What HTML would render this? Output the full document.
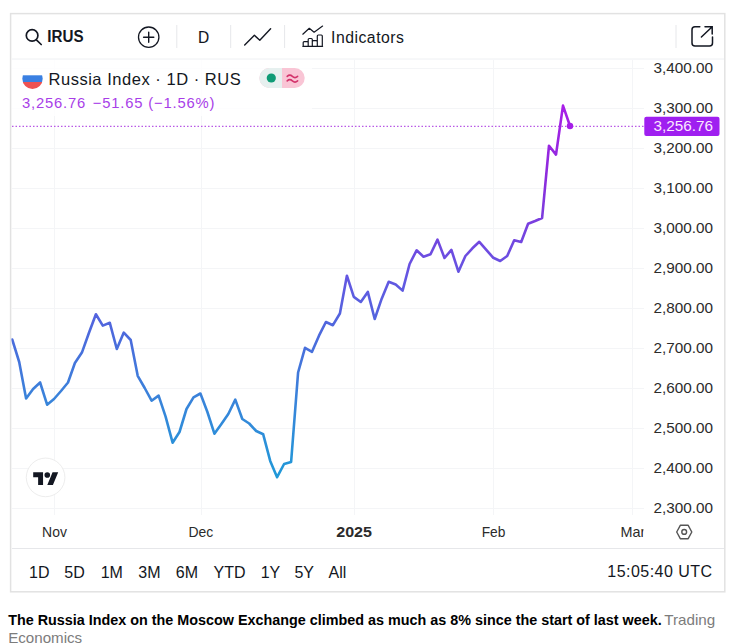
<!DOCTYPE html>
<html><head><meta charset="utf-8"><style>
html,body{margin:0;padding:0;background:#fff;width:742px;height:644px;overflow:hidden}
svg{display:block}
text{font-family:"Liberation Sans", sans-serif}
</style></head><body>
<svg width="742" height="644" viewBox="0 0 742 644">
<defs>
<linearGradient id="lg" gradientUnits="userSpaceOnUse" x1="0" y1="480" x2="0" y2="105"><stop offset="0.000" stop-color="#1f9ad8"/><stop offset="0.219" stop-color="#3a83da"/><stop offset="0.373" stop-color="#4a6cdc"/><stop offset="0.544" stop-color="#6456e2"/><stop offset="0.805" stop-color="#8c2cdc"/><stop offset="1.000" stop-color="#a81ee8"/></linearGradient>
<clipPath id="pane"><rect x="11.4" y="60" width="632.6" height="455"/></clipPath>
<clipPath id="flag"><circle cx="32.5" cy="78.8" r="10.2"/></clipPath>
<clipPath id="mar"><rect x="600" y="515" width="43.5" height="33"/></clipPath>
</defs>
<rect x="10.6" y="13.6" width="714.2" height="578.2" fill="#fff" stroke="#e2e2e2" stroke-width="1.5"/>
<line x1="12" y1="59" x2="724" y2="59" stroke="#eef0f3" stroke-width="1"/>
<g stroke="#f4f5f7" stroke-width="1"><line x1="12" y1="68.5" x2="644" y2="68.5"/><line x1="12" y1="108.5" x2="644" y2="108.5"/><line x1="12" y1="148.5" x2="644" y2="148.5"/><line x1="12" y1="188.5" x2="644" y2="188.5"/><line x1="12" y1="228.5" x2="644" y2="228.5"/><line x1="12" y1="268.5" x2="644" y2="268.5"/><line x1="12" y1="308.5" x2="644" y2="308.5"/><line x1="12" y1="348.5" x2="644" y2="348.5"/><line x1="12" y1="388.5" x2="644" y2="388.5"/><line x1="12" y1="428.5" x2="644" y2="428.5"/><line x1="12" y1="468.5" x2="644" y2="468.5"/><line x1="12" y1="508.5" x2="644" y2="508.5"/><line x1="54.5" y1="60" x2="54.5" y2="515"/><line x1="201.5" y1="60" x2="201.5" y2="515"/><line x1="354.5" y1="60" x2="354.5" y2="515"/><line x1="493.5" y1="60" x2="493.5" y2="515"/><line x1="632.5" y1="60" x2="632.5" y2="515"/></g>
<rect x="12" y="60" width="300" height="56" fill="#fff" fill-opacity="0.8"/>
<line x1="12" y1="548.5" x2="724" y2="548.5" stroke="#e6e7ea" stroke-width="1"/>
<line x1="12" y1="126.3" x2="644" y2="126.3" stroke="#b95ae6" stroke-width="1.3" stroke-dasharray="1.5 2"/>
<g clip-path="url(#pane)">
<polyline fill="none" stroke="url(#lg)" stroke-width="2.6" stroke-linejoin="round" stroke-linecap="round" points="12.2,339.5 19.2,362.0 26.1,398.5 33.1,389.0 40.1,382.5 47.1,404.7 54.0,399.0 61.0,391.0 68.0,382.5 74.9,363.0 81.9,352.6 88.9,333.0 95.9,314.3 102.8,325.6 109.8,322.8 116.8,349.0 123.8,332.6 130.7,340.0 137.7,375.8 144.7,388.0 151.6,400.7 158.6,395.6 165.6,416.6 172.6,442.7 179.5,432.0 186.5,409.0 193.5,397.4 200.4,393.5 207.4,412.0 214.4,433.7 221.4,424.0 228.3,414.0 235.3,399.6 242.3,419.0 249.2,423.5 256.2,431.0 263.2,434.3 270.2,460.9 277.1,477.2 284.1,464.0 291.1,462.0 298.1,372.5 305.0,347.8 312.0,351.8 319.0,335.7 325.9,322.0 332.9,325.2 339.9,313.5 346.9,275.7 353.8,296.9 360.8,302.0 367.8,291.9 374.7,319.0 381.7,298.7 388.7,281.8 395.7,284.5 402.6,290.6 409.6,264.0 416.6,250.3 423.5,256.7 430.5,254.3 437.5,239.6 444.5,258.0 451.4,249.9 458.4,271.7 465.4,256.0 472.4,248.3 479.3,241.8 486.3,249.9 493.3,257.8 500.2,261.0 507.2,256.0 514.2,240.2 521.2,242.0 528.1,223.8 535.1,221.0 542.1,218.0 549.0,145.7 556.0,154.6 563.0,105.6 570.0,126.0"/>
</g>
<circle cx="570" cy="126" r="3.2" fill="#a51ee8"/>
<circle cx="45.6" cy="477.4" r="19.3" fill="#fff" stroke="#ededed" stroke-width="1"/>
<g transform="translate(33.2,469.4) scale(0.704)" fill="#131722">
<path d="M14 22H7V11H0V4h14v18zM28 22h-8l7.5-18h8L28 22z"/><circle cx="20" cy="8" r="4"/>
</g>
<g fill="none" stroke="#131722" stroke-linecap="round">
<circle cx="32.1" cy="35.4" r="5.8" stroke-width="1.7"/>
<line x1="36.4" y1="39.9" x2="41.2" y2="44.5" stroke-width="1.7"/>
<circle cx="148.7" cy="37.2" r="10.2" stroke-width="1.3"/>
<line x1="143.6" y1="37.2" x2="153.8" y2="37.2" stroke-width="1.4"/>
<line x1="148.7" y1="32.1" x2="148.7" y2="42.3" stroke-width="1.4"/>
<polyline points="244.7,45 254.4,35.3 259.8,40.2 270.6,28.8" stroke-width="1.4" stroke-linejoin="round"/>
<polyline points="302.8,34.2 309.3,28.3 314.1,32.2 322.6,26.1" stroke-width="1.2" stroke-linejoin="round"/>
<path d="M303.2 46.3V42.6a1 1 0 0 1 1-1h3a1 1 0 0 1 1 1V46.3M308.2 46.3V39.5a1 1 0 0 1 1-1h2.1a1 1 0 0 1 1 1V46.3M312.3 46.3V41.7a1 1 0 0 1 1-1h3a1 1 0 0 1 1 1V46.3M317.3 46.3V36a1 1 0 0 1 1-1h3a1 1 0 0 1 1 1V46.3M302.8 46.3H322.6" stroke-width="1.2"/>
<path d="M699.8 26.8H695a3 3 0 0 0-3 3V42.9a3 3 0 0 0 3 3H709.5a3 3 0 0 0 3-3V37" stroke-width="1.5"/>
<path d="M701.4 37L712.2 26.8M705 26.8H712.2V34" stroke-width="1.5"/>
</g>
<g stroke="#e6e7ea" stroke-width="1">
<line x1="176.8" y1="25" x2="176.8" y2="48"/>
<line x1="230.7" y1="25" x2="230.7" y2="48"/>
<line x1="284.6" y1="25" x2="284.6" y2="48"/>
<line x1="676" y1="25" x2="676" y2="48"/>
</g>
<text x="47.3" y="42.1" font-size="16.8" font-weight="bold" fill="#131722" textLength="36.2" lengthAdjust="spacingAndGlyphs">IRUS</text>
<text x="198.1" y="42.9" font-size="16" fill="#131722" stroke="#131722" stroke-width="0.1" textLength="11.2" lengthAdjust="spacingAndGlyphs">D</text>
<text x="331" y="43" font-size="15.8" fill="#131722" textLength="73" lengthAdjust="spacing">Indicators</text>
<g clip-path="url(#flag)">
<rect x="22" y="68" width="21" height="7.5" fill="#fff"/>
<rect x="22" y="75.3" width="21" height="6.7" fill="#3a80e2"/>
<rect x="22" y="82" width="21" height="8" fill="#ee5252"/>
</g>
<text x="48.5" y="84.9" font-size="16.5" fill="#131722" textLength="192.2" lengthAdjust="spacing">Russia Index · 1D · RUS</text>
<g font-size="14.8" fill="#a83ee8">
<text x="22.1" y="108.3" textLength="63.1" lengthAdjust="spacing">3,256.76</text>
<text x="92.8" y="108.3" textLength="121.7" lengthAdjust="spacing">−51.65 (−1.56%)</text>
</g>
<rect x="259.4" y="68" width="45.3" height="20" rx="10" fill="#f9c5d5"/>
<path d="M269.4 68H282V88H269.4a10 10 0 0 1 0-20z" fill="#e6f0ef"/>
<circle cx="271.3" cy="78" r="4.6" fill="#0f9b76"/>
<path d="M287.2 76.4q2.6-2.4 5.2 0t5.2 0M287.2 80.9q2.6-2.4 5.2 0t5.2 0" fill="none" stroke="#d3336b" stroke-width="1.6" stroke-linecap="round"/>
<g font-size="14.8" fill="#2b2b2b"><text x="653.4" y="73.0" textLength="59.5" lengthAdjust="spacingAndGlyphs">3,400.00</text><text x="653.4" y="113.0" textLength="59.5" lengthAdjust="spacingAndGlyphs">3,300.00</text><text x="653.4" y="153.0" textLength="59.5" lengthAdjust="spacingAndGlyphs">3,200.00</text><text x="653.4" y="193.0" textLength="59.5" lengthAdjust="spacingAndGlyphs">3,100.00</text><text x="653.4" y="233.0" textLength="59.5" lengthAdjust="spacingAndGlyphs">3,000.00</text><text x="653.4" y="273.0" textLength="59.5" lengthAdjust="spacingAndGlyphs">2,900.00</text><text x="653.4" y="313.0" textLength="59.5" lengthAdjust="spacingAndGlyphs">2,800.00</text><text x="653.4" y="353.0" textLength="59.5" lengthAdjust="spacingAndGlyphs">2,700.00</text><text x="653.4" y="393.0" textLength="59.5" lengthAdjust="spacingAndGlyphs">2,600.00</text><text x="653.4" y="433.0" textLength="59.5" lengthAdjust="spacingAndGlyphs">2,500.00</text><text x="653.4" y="473.0" textLength="59.5" lengthAdjust="spacingAndGlyphs">2,400.00</text><text x="653.4" y="513.0" textLength="59.5" lengthAdjust="spacingAndGlyphs">2,300.00</text></g>
<rect x="644.3" y="116.7" width="75.2" height="19.2" rx="2" fill="#9f1ff0"/>
<text x="653.4" y="131.3" font-size="14.8" fill="#fbe8ff" textLength="59.5" lengthAdjust="spacingAndGlyphs">3,256.76</text>
<g font-size="14.5" fill="#2b2b2b">
<text x="42.1" y="537" textLength="24.8" lengthAdjust="spacingAndGlyphs">Nov</text>
<text x="188.5" y="537" textLength="24.8" lengthAdjust="spacingAndGlyphs">Dec</text>
<text x="336.2" y="537" font-weight="bold" textLength="35.8" lengthAdjust="spacingAndGlyphs">2025</text>
<text x="481.7" y="537" textLength="23.7" lengthAdjust="spacingAndGlyphs">Feb</text>
<text x="620.6" y="537" clip-path="url(#mar)" textLength="24.8" lengthAdjust="spacingAndGlyphs">Mar</text>
</g>
<g fill="none" stroke="#555" stroke-width="1.4" stroke-linejoin="round">
<path d="M676.7 532L680.3 525.3H688.2L691.8 532L688.2 538.7H680.3Z"/>
<circle cx="684.2" cy="531.9" r="2.4"/>
</g>
<g font-size="16" fill="#131722">
<text x="29.1" y="577.6">1D</text>
<text x="64.3" y="577.6">5D</text>
<text x="100.7" y="577.6">1M</text>
<text x="138.3" y="577.6">3M</text>
<text x="175.8" y="577.6">6M</text>
<text x="213.5" y="577.6">YTD</text>
<text x="260.7" y="577.6">1Y</text>
<text x="294.4" y="577.6">5Y</text>
<text x="328.6" y="577.6">All</text>
</g>
<text x="712" y="577.3" font-size="16" fill="#131722" text-anchor="end" textLength="104.7" lengthAdjust="spacing">15:05:40 UTC</text>
<text x="8.2" y="625" font-size="14.5" font-weight="bold" fill="#000" textLength="653.5" lengthAdjust="spacingAndGlyphs">The Russia Index on the Moscow Exchange climbed as much as 8% since the start of last week.</text>
<text x="664.3" y="625" font-size="15" fill="#7c7c7c" textLength="51" lengthAdjust="spacingAndGlyphs">Trading</text>
<text x="8.2" y="642.8" font-size="15" fill="#7c7c7c" textLength="74" lengthAdjust="spacingAndGlyphs">Economics</text>
</svg>
</body></html>
